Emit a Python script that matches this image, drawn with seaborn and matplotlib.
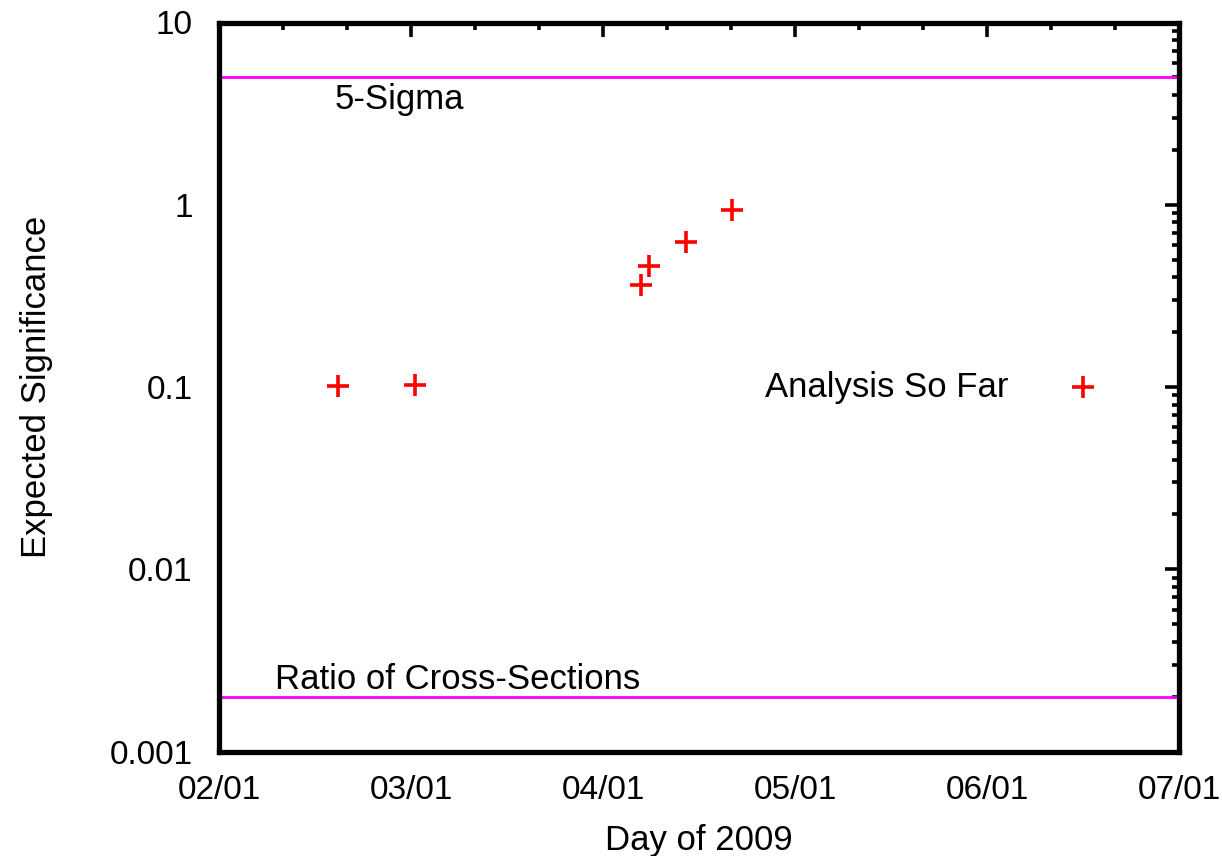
import matplotlib
matplotlib.use("Agg")
import matplotlib.pyplot as plt
import matplotlib.ticker as mticker
import numpy as np
import pandas as pd
import seaborn as sns

# Month positions on a uniform month axis (2 = Feb 1, 7 = Jul 1)
month_pos = [2.62, 3.02, 4.20, 4.24, 4.43, 4.67]
significance = [0.101, 0.102, 0.361, 0.461, 0.622, 0.933]

tick_pos = [2, 3, 4, 5, 6, 7]
tick_labels = ["02/01", "03/01", "04/01", "05/01", "06/01", "07/01"]
y_ticks = [0.001, 0.01, 0.1, 1, 10]
y_tick_labels = ["0.001", "0.01", "0.1", "1", "10"]

five_sigma = 5.0
xsec_ratio = 0.002

sns.set_style("white")
plt.rcParams["font.family"] = ["Liberation Sans", "DejaVu Sans"]
plt.rcParams["text.color"] = "black"
plt.rcParams["axes.labelcolor"] = "black"

fig = plt.figure(figsize=(12.22, 8.56), dpi=100)
ax = fig.add_axes([219 / 1222, 1 - 751.5 / 856, 960 / 1222, 729 / 856])

df = pd.DataFrame({"month": month_pos, "sig": significance})

ax.axhline(five_sigma, color="#ff00ff", lw=2.0, zorder=1)
ax.axhline(xsec_ratio, color="#ff00ff", lw=2.0, zorder=1)

sns.scatterplot(data=df, x="month", y="sig", marker="+", s=260,
                color="#ff0000", linewidth=2.6, ax=ax,
                label="Analysis So Far", zorder=3)

ax.set_yscale("log")
ax.set_xlim(2, 7)
ax.set_ylim(0.001, 10)

ax.set_xticks(tick_pos)
ax.set_xticklabels(tick_labels)
ax.xaxis.set_minor_locator(mticker.MultipleLocator(1 / 3))
ax.set_yticks(y_ticks)
ax.set_yticklabels(y_tick_labels)
ax.yaxis.set_minor_locator(mticker.LogLocator(base=10, subs=np.arange(2, 10)))
ax.yaxis.set_minor_formatter(mticker.NullFormatter())

ax.tick_params(which="both", direction="in", top=True, right=True,
               labelsize=24, colors="black")
ax.tick_params(which="major", length=10, width=2.6)
ax.tick_params(which="minor", length=5, width=2.6)
ax.tick_params(axis="x", which="major", pad=17)
ax.tick_params(axis="y", which="major", pad=19)

for sp in ax.spines.values():
    sp.set_linewidth(3.8)
    sp.set_color("black")

ax.text(2.604, 3.76, "5-Sigma", fontsize=25, va="center", ha="left")
ax.text(2.29, 0.00247, "Ratio of Cross-Sections", fontsize=25,
        va="center", ha="left")

ax.set_xlabel("Day of 2009", fontsize=25, labelpad=13)
ax.set_ylabel("Expected Significance", fontsize=25, labelpad=41)

ax.legend(loc="center right", bbox_to_anchor=((1118 - 219) / 960, 0.5),
          frameon=False, markerfirst=False, fontsize=25, handlelength=2.0,
          handletextpad=1.15, borderpad=0, borderaxespad=0)

fig.savefig("out.png", dpi=100, facecolor="white")
